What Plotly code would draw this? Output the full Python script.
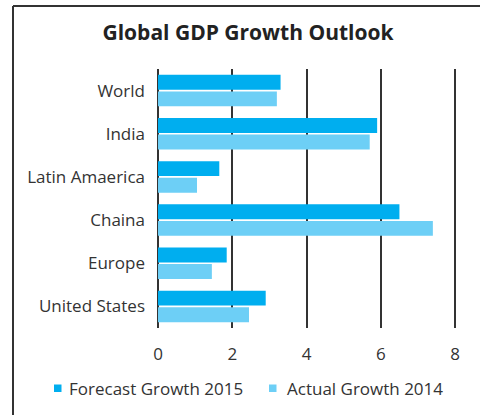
import plotly.graph_objects as go

categories = ["World", "India", "Latin Amaerica", "Chaina", "Europe", "United States"]
forecast_2015 = [3.3, 5.9, 1.65, 6.5, 1.85, 2.9]
actual_2014 = [3.2, 5.7, 1.05, 7.4, 1.45, 2.45]
x_ticks = [0, 2, 4, 6, 8]
series_names = ["Forecast Growth 2015", "Actual Growth 2014"]

W, H = 480, 415
L, R, T, B = 158, 10, 69, 87
PW, PH = W - L - R, H - T - B

def px(x):
    return (x - L) / PW

def py(y):
    return (H - B - y) / PH

C_FC = "#00AEEF"
C_AC = "#6DCFF6"
FONT = "Open Sans"
TXT = "#333333"

fig = go.Figure()
fig.add_trace(go.Bar(y=categories, x=forecast_2015, orientation="h", name=series_names[0],
                     marker=dict(color=C_FC, line=dict(width=0)), showlegend=False))
fig.add_trace(go.Bar(y=categories, x=actual_2014, orientation="h", name=series_names[1],
                     marker=dict(color=C_AC, line=dict(width=0)), showlegend=False))

# manual legend (squares + text)
legend_items = [(54, 67, C_FC, series_names[0]), (269, 285, C_AC, series_names[1])]
shapes = [
    dict(type="line", xref="paper", yref="paper", x0=px(13), x1=px(482), y0=py(6), y1=py(6),
         line=dict(color="#333333", width=2)),
    dict(type="line", xref="paper", yref="paper", x0=px(13), x1=px(13), y0=py(6), y1=py(417),
         line=dict(color="#333333", width=2)),
]
annotations = []
for sx, tx, col, name in legend_items:
    shapes.append(dict(type="rect", xref="paper", yref="paper", x0=px(sx), x1=px(sx + 7.5),
                       y0=py(384.5), y1=py(392), fillcolor=col, line=dict(width=0)))
    annotations.append(dict(text=name, xref="paper", yref="paper", x=px(tx), y=py(388),
                            xanchor="left", yanchor="middle", showarrow=False,
                            font=dict(family=FONT, size=17, color=TXT)))

fig.update_layout(
    width=W, height=H,
    margin=dict(l=L, r=R, t=T, b=B),
    paper_bgcolor="white", plot_bgcolor="white",
    barmode="group", bargap=0.23, bargroupgap=0.1,
    showlegend=False,
    font=dict(family=FONT, size=17, color=TXT),
    title=dict(text="<b>Global GDP Growth Outlook</b>", x=248 / W, xanchor="center",
               y=1 - 33 / H, yanchor="middle", font=dict(family=FONT, size=21, color="#222222")),
    xaxis=dict(range=[0, 8.4], tickvals=x_ticks, showgrid=True, gridcolor="#333333", gridwidth=2,
               zeroline=True, zerolinecolor="#333333", zerolinewidth=2, showline=False,
               automargin=False, ticklabelstandoff=14, tickfont=dict(size=17, color=TXT),
               fixedrange=True),
    yaxis=dict(autorange="reversed", showgrid=False, zeroline=False, showline=False,
               automargin=False, ticklabelstandoff=12, tickfont=dict(size=17, color=TXT)),
    shapes=shapes,
    annotations=annotations,
)

fig.write_html("out.html", config={"displayModeBar": False},
               post_script="document.body.style.margin='0px';")
